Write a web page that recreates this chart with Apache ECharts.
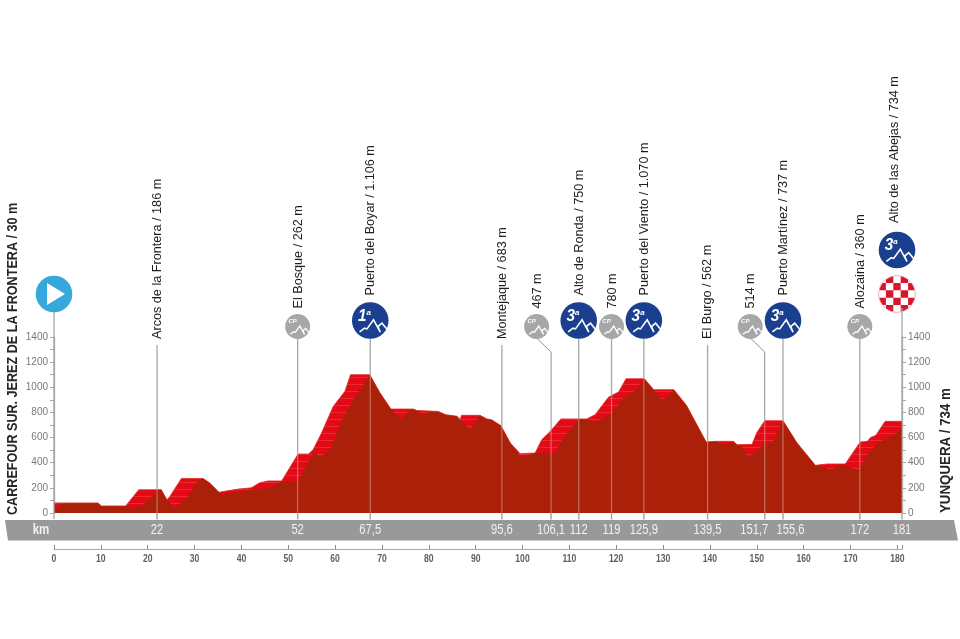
<!DOCTYPE html>
<html><head><meta charset="utf-8">
<style>html,body{margin:0;padding:0;background:#fff}#c{width:960px;height:639px}</style>
<script src="https://cdn.jsdelivr.net/npm/echarts@6/dist/echarts.min.js"></script>
</head><body><div id="c"></div>
<script>
// Outer silhouette of the profile [km, m]
const profileTop = [[0,80],[9.4,80],[10.1,56],[15.3,56],[18.1,185],[22.9,185],[24.1,105],[24.7,130],[27.2,275],[31.8,275],[33.2,240],[35.2,165],[39.3,190],[42.1,200],[43.9,240],[45.7,255],[48.6,255],[52.1,469],[54.3,469],[55.3,503],[57.1,636],[59.6,848],[62.1,968],[63.3,1100],[67.4,1100],[69.6,955],[71.9,827],[76.7,827],[77.4,816],[82,808],[83.6,782],[86,770],[86.7,742],[87,777],[90.9,777],[92.4,748],[93.4,742],[95.4,695],[97.4,557],[99.5,472],[102.7,477],[104.1,583],[105.9,649],[108.2,748],[113.7,748],[115.5,782],[118.4,923],[120.5,962],[122.1,1068],[126,1068],[128,981],[132.3,981],[135,856],[139.2,565],[141.2,570],[145,570],[145.8,543],[149,546],[150,638],[151.7,734],[155.6,734],[158.6,557],[162.5,379],[165,390],[168.9,390],[170.7,490],[172.1,565],[173.6,570],[174.3,601],[175.4,617],[177.4,729],[181,729]];
// Inner darker body of the profile [km, m]
const profileBody = [[0,30],[1.9,78],[9.4,80],[10.1,56],[15.3,56],[16.9,40],[18.7,58],[20.4,106],[22.2,186],[22.9,185],[24.1,105],[25.8,40],[28.5,120],[30.7,252],[31.8,275],[33.2,240],[35.2,165],[36,145],[41.8,185],[46,199],[48.6,255],[52.1,255],[54.3,410],[55.3,477],[57.1,450],[58.9,503],[61.4,729],[64.2,917],[67.4,1100],[69.6,955],[71.9,827],[73.9,742],[75.6,808],[76.7,827],[77.4,816],[78.7,782],[80.4,808],[82,808],[83.6,782],[86,770],[88.8,662],[90.9,777],[92.4,748],[93.4,742],[95.4,695],[97.4,557],[99.6,442],[102.7,477],[107,477],[108.4,583],[112,748],[113.7,748],[115.5,724],[118.7,782],[121.6,915],[124.4,981],[126,1068],[128,981],[129.8,893],[132.3,981],[135,856],[139.2,565],[141.2,570],[143.3,535],[145,570],[145.8,543],[146.9,530],[148,450],[149,464],[151.5,543],[153.3,559],[155.6,734],[158.6,557],[162.5,379],[166,345],[168,385],[171.7,339],[173.6,464],[175.8,557],[178.6,610],[180.4,649],[181,729]];
const passKm = [22,52,67.5,95.6,106.1,112,119,125.9,139.5,151.7,155.6,172,181];
const passLabels = ['22','52','67,5','95,6','106,1','112','119','125,9','139,5','151,7','155,6','172','181'];
const passNames = ['Arcos de la Frontera / 186 m','El Bosque / 262 m','Puerto del Boyar / 1.106 m','Montejaque / 683 m','467 m','Alto de Ronda / 750 m','780 m','Puerto del Viento / 1.070 m','El Burgo / 562 m','514 m','Puerto Martínez / 737 m','Alozaina / 360 m','Alto de las Abejas / 734 m'];
const passTypes = ['none','cp','1','none','cpOff','3','cp','3','none','cpOff','3','cp','finish'];
const startName = 'CARREFOUR SUR. JEREZ DE LA FRONTERA / 30 m';
const finishName = 'YUNQUERA / 734 m';
const kmTicks = [0,10,20,30,40,50,60,70,80,90,100,110,120,130,140,150,160,170,180];
const elevTicks = {max:1400, step:200};

const GREY='#a6a7a9', BLUE='#1b3f8f', DARK='#ab2008', BRIGHT='#e30a17';
const FONT='"Liberation Sans", Arial, sans-serif';

function stripes(){
  const c=document.createElement('canvas');c.width=8;c.height=7;
  const g=c.getContext('2d');g.fillStyle=BRIGHT;g.fillRect(0,0,8,7);
  g.fillStyle='#e92a30';g.fillRect(0,6,8,1);return c;
}
function heightAt(km){
  for(let i=1;i<profileTop.length;i++){
    const a=profileTop[i-1],b=profileTop[i];
    if(km<=b[0])return a[1]+(b[1]-a[1])*(km-a[0])/(b[0]-a[0]);
  }
  return profileTop[profileTop.length-1][1];
}
function vtext(x,y,text,size,weight,sx,fill){
  return {type:'text',x:x,y:y,rotation:Math.PI/2,scaleX:sx,z2:5,style:{text:text,fontSize:size,fontWeight:weight||'normal',fontFamily:FONT,fill:fill||'#1d1d1b',align:'left',verticalAlign:'middle'}};
}
function seg(x1,y1,x2,y2,color,w){
  return {type:'line',shape:{x1,y1,x2,y2},style:{stroke:color,lineWidth:w||1.3},z2:2};
}
function mountain(cx,cy,r,lw){
  const p=[[-.58,.62],[-.31,.42],[-.18,.46],[.18,-.04],[.55,.64],[.42,.33],[.64,.15],[.94,.51]];
  return {type:'polyline',z2:4,shape:{points:p.map(q=>[cx+q[0]*r,cy+q[1]*r])},style:{fill:null,stroke:'#fff',lineWidth:lw}};
}
function blueIcon(cx,cy,num){
  const r=18.3;
  return [{type:'circle',z2:3,shape:{cx,cy,r},style:{fill:BLUE}},mountain(cx,cy,r,1.6),
    {type:'text',z2:4,x:cx-8,y:cy-4.5,scaleX:.9,style:{text:num,fontSize:17,fontStyle:'italic',fontWeight:'bold',fontFamily:FONT,fill:'#fff',align:'center',verticalAlign:'middle'}},
    {type:'text',z2:4,x:cx-1.5,y:cy-8,style:{text:'a',fontSize:8,fontStyle:'italic',fontWeight:'bold',fontFamily:FONT,fill:'#fff',align:'center',verticalAlign:'middle'}}];
}
function greyIcon(cx,cy){
  const r=12.5;
  return [{type:'circle',z2:3,shape:{cx,cy,r},style:{fill:GREY}},mountain(cx,cy,r,1.3),
    {type:'text',z2:4,x:cx-r*.4,y:cy-r*.4,style:{text:'CP',fontSize:6,fontStyle:'italic',fontWeight:'bold',fontFamily:FONT,fill:'#fff',align:'center',verticalAlign:'middle'}}];
}
function finishIcon(cx,cy){
  const r=18.3,s=7.4,kids=[{type:'rect',shape:{x:cx-r,y:cy-r,width:2*r,height:2*r},style:{fill:'#fff'}}];
  for(let i=-3;i<=3;i++)for(let j=-3;j<=3;j++){
    if((i+j)%2===0)continue;
    kids.push({type:'rect',shape:{x:cx+i*s-s/2,y:cy+j*s-s/2,width:s,height:s},style:{fill:'#d6162a'}});
  }
  return [{type:'group',z2:3,clipPath:{type:'circle',shape:{cx,cy,r}},children:kids},
    {type:'circle',z2:4,shape:{cx,cy,r},style:{fill:null,stroke:'#eda3a8',lineWidth:.8}}];
}
const NS=13.6,NX=.93;
function bandShift(km){ return km===151.7?-10.5:km===155.6?7.5:0; }
function renderPass(params,api){
  const km=api.value(0),i=params.dataIndex,t=passTypes[i];
  const base=api.coord([km,0]),top=api.coord([km,heightAt(km)]);
  const x=base[0],y0=base[1],k=[];
  const bottom=y0+6.5;
  let upTo;
  const name=passNames[i];
  if(t==='none'){upTo=y0-168;k.push(vtext(x,y0-174,name,NS,null,NX));}
  else if(t==='cp'){upTo=y0-180;k.push(...greyIcon(x,y0-186.5));k.push(vtext(x+.5,y0-204.5,name,NS,null,NX));}
  else if(t==='cpOff'){
    const cx=x-14.5;upTo=y0-161;
    k.push(seg(x,y0-161,cx-1,y0-176,'#8f9092',1));
    k.push(...greyIcon(cx,y0-186.5));k.push(vtext(cx+.5,y0-204.5,name,NS,null,NX));
  }
  else if(t==='finish'){
    upTo=y0-205;
    k.push(...finishIcon(x-5,y0-219));k.push(...blueIcon(x-5,y0-263,'3'));k.push(vtext(x-7.5,y0-290,name,NS,null,NX));
  }
  else{upTo=y0-174;k.push(...blueIcon(x,y0-192.5,t));k.push(vtext(x+.5,y0-217.5,name,NS,null,NX));}
  k.push(seg(x,top[1],x,upTo,t==='cpOff'?'#8f9092':GREY,t==='cpOff'?1:1.3));
  k.push(seg(x,bottom,x,top[1],'rgba(215,175,165,.55)',1.2));
  k.push(seg(x,y0,x,bottom,GREY,1.3));
  k.push({type:'text',z2:5,x:x+bandShift(km),y:y0+17.5,scaleX:.8,style:{text:passLabels[i],fontSize:14,fontFamily:FONT,fill:'#f1f1f1',align:'center',verticalAlign:'middle'}});
  return {type:'group',children:k};
}
function renderStart(params,api){
  const b=api.coord([0,0]),x=b[0],y=b[1],cy=y-219,k=[];
  k.push(seg(x,y+6,x,cy+16,GREY,1.3));
  k.push({type:'circle',z2:3,shape:{cx:x,cy:cy,r:18.3},style:{fill:'#35a8dc'}});
  k.push({type:'polygon',z2:4,shape:{points:[[x-7,cy-11],[x+11,cy],[x-7,cy+11]]},style:{fill:'#fff'}});
  k.push(vtext(x-40.5,y+2,startName,14,'bold',.9,'#262624'));
  k.push({type:'text',z2:5,x:x-13,y:y+17.5,scaleX:.82,style:{text:'km',fontSize:14,fontWeight:'bold',fontFamily:FONT,fill:'#f1f1f1',align:'center',verticalAlign:'middle'}});
  return {type:'group',children:k};
}
function renderEnd(params,api){
  const b=api.coord([181,0]);
  return vtext(b[0]+44.5,b[1]+0,finishName,14,'bold',.95,'#262624');
}
function renderKm(params,api){
  const p=api.coord([api.value(0),0]);
  return {type:'text',x:p[0],y:p[1]+10,scaleX:.78,style:{text:String(api.value(0)),fontSize:11,fontWeight:'bold',fontFamily:FONT,fill:'#5f6062',align:'center',verticalAlign:'middle'}};
}
const yAxisBase={type:'value',gridIndex:0,min:0,max:elevTicks.max,interval:elevTicks.step,splitLine:{show:false},
  axisLine:{show:true,lineStyle:{color:GREY,width:1.3}},axisTick:{show:true,length:4,lineStyle:{color:GREY}},
  minorTick:{show:true,splitNumber:2,length:4,lineStyle:{color:GREY}},
  axisLabel:{fontSize:10,color:'#77787a',fontFamily:FONT,margin:6,formatter:v=>String(v)}};
const chart=echarts.init(document.getElementById('c'),null,{renderer:'canvas'});
chart.setOption({
  backgroundColor:'#fff',animation:false,
  graphic:[{type:'polygon',z:-1,shape:{points:[[5,520],[954,520],[958,540.5],[8,540.5]]},style:{fill:'#97999b'}}],
  grid:[{left:54,top:337,width:848,height:176},{left:54,top:548,width:848,height:1}],
  xAxis:[
    {type:'value',gridIndex:0,min:0,max:181,show:false},
    {type:'value',gridIndex:1,min:0,max:181,interval:10,position:'bottom',splitLine:{show:false},
     axisLine:{show:true,lineStyle:{color:GREY,width:1.2}},axisTick:{show:true,inside:true,length:4,lineStyle:{color:'#8a8b8d'}},
     axisLabel:{show:false}}
  ],
  yAxis:[
    Object.assign({},yAxisBase,{position:'left'}),
    Object.assign({},yAxisBase,{position:'right'}),
    {type:'value',gridIndex:1,min:0,max:1,show:false}
  ],
  series:[
    {type:'line',name:'top',data:profileTop,symbol:'none',z:2,lineStyle:{width:0},areaStyle:{color:{image:stripes(),repeat:'repeat'},opacity:1}},
    {type:'line',name:'body',data:profileBody,symbol:'none',z:3,lineStyle:{width:0},areaStyle:{color:DARK,opacity:1}},
    {type:'line',name:'edge',data:profileTop,symbol:'none',z:4,lineStyle:{width:.8,color:'#e0281e'}},
    {type:'custom',name:'passes',z:6,coordinateSystem:'cartesian2d',data:passKm.map(k=>[k,0]),renderItem:renderPass,clip:false},
    {type:'custom',name:'start',z:6,coordinateSystem:'cartesian2d',data:[[0,0]],renderItem:renderStart,clip:false},
    {type:'custom',name:'end',z:6,coordinateSystem:'cartesian2d',data:[[181,0]],renderItem:renderEnd,clip:false},
    {type:'custom',name:'kmLabels',z:6,coordinateSystem:'cartesian2d',xAxisIndex:1,yAxisIndex:2,data:kmTicks.map(k=>[k,0]),renderItem:renderKm,clip:false}
  ]
});
</script></body></html>
